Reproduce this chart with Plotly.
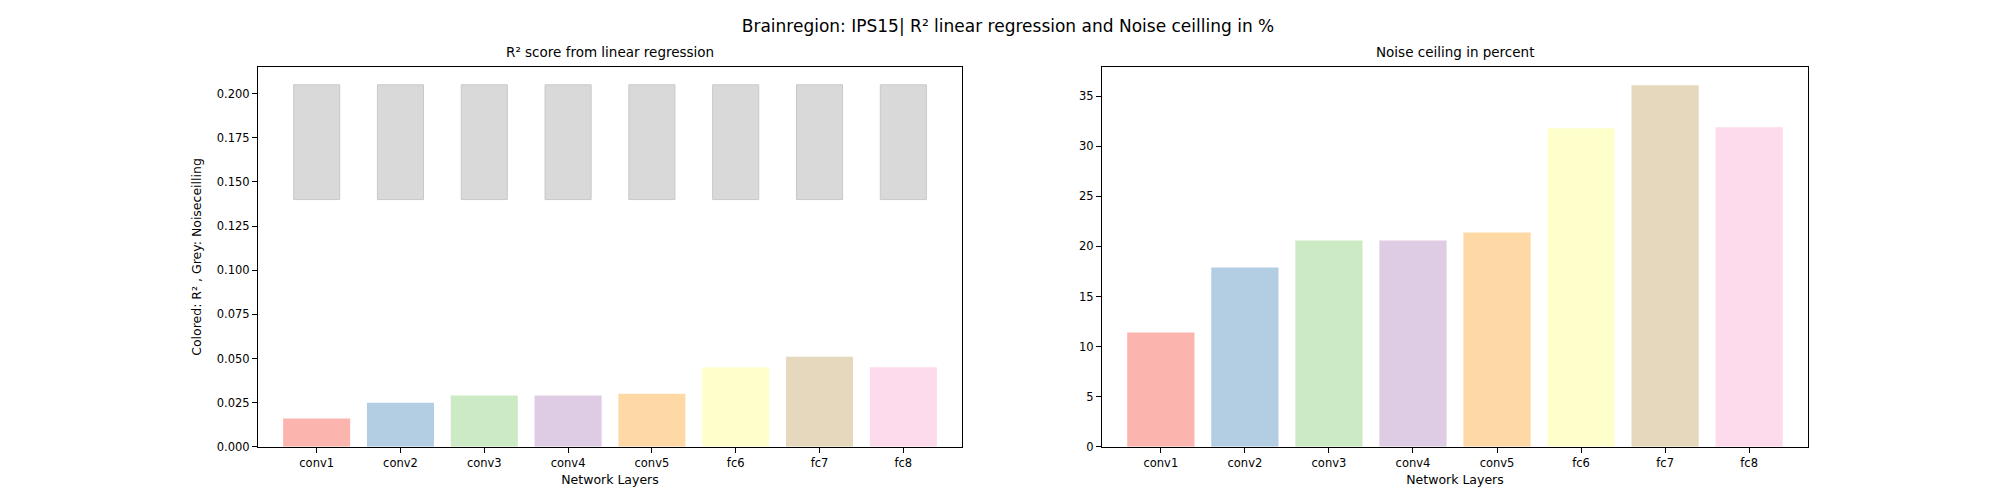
import plotly.graph_objects as go

layers = ['conv1', 'conv2', 'conv3', 'conv4', 'conv5', 'fc6', 'fc7', 'fc8']
r2_scores = [0.016, 0.025, 0.029, 0.029, 0.030, 0.045, 0.051, 0.045]
nc_low = [0.140] * 8
nc_high = [0.205] * 8
noise_ceiling_pct = [11.4, 17.9, 20.6, 20.6, 21.4, 31.8, 36.1, 31.9]

cores = ['#fbb4ae', '#b3cde3', '#ccebc5', '#decbe4', '#fed9a6', '#ffffcc', '#e5d8bd', '#fddaec']
fonte = dict(family='DejaVu Sans', size=11.5, color='black')

fig = go.Figure()

# Barras cinza (noise ceiling) flutuantes
fig.add_trace(go.Bar(
    x=layers, y=[h - l for h, l in zip(nc_high, nc_low)], base=nc_low,
    width=0.55, marker=dict(color='#d9d9d9', line=dict(color='#c8c8c8', width=1)),
    xaxis='x', yaxis='y', showlegend=False))

# R² por camada
fig.add_trace(go.Bar(
    x=layers, y=r2_scores, width=0.8, marker=dict(color=cores, line_width=0),
    xaxis='x', yaxis='y', showlegend=False))

# Noise ceiling em %
fig.add_trace(go.Bar(
    x=layers, y=noise_ceiling_pct, width=0.8, marker=dict(color=cores, line_width=0),
    xaxis='x2', yaxis='y2', showlegend=False))

eixo = dict(showline=True, mirror=True, linecolor='black', linewidth=1, ticks='outside',
            ticklen=5, tickcolor='black', showgrid=False, zeroline=False, tickfont=fonte)

fig.update_layout(
    width=2000, height=500, plot_bgcolor='white', paper_bgcolor='white',
    font=fonte, barmode='overlay', margin=dict(l=0, r=0, t=0, b=0),
    title=dict(text='Brainregion: IPS15| R² linear regression and Noise ceilling in %',
               x=0.5, xanchor='center', y=0.964, yanchor='middle',
               font=dict(family='DejaVu Sans', size=17, color='black')),
    xaxis=dict(eixo, domain=[0.125, 0.477], range=[-0.7, 7.7],
               title=dict(text='Network Layers', font=dict(size=12.5), standoff=6)),
    yaxis=dict(eixo, domain=[0.11, 0.88], range=[0, 0.215], tickformat='.3f', dtick=0.025,
               title=dict(text='Colored: R² , Grey: Noiseceilling', font=dict(size=12.5), standoff=12)),
    xaxis2=dict(eixo, domain=[0.547, 0.900], range=[-0.7, 7.7], anchor='y2',
                title=dict(text='Network Layers', font=dict(size=12.5), standoff=6)),
    yaxis2=dict(eixo, domain=[0.11, 0.88], range=[0, 37.9], dtick=5, anchor='x2'),
    annotations=[
        dict(text='R² score from linear regression', x=0.301, y=0.89, xref='paper', yref='paper',
             xanchor='center', yanchor='bottom', showarrow=False, font=dict(size=13.5)),
        dict(text='Noise ceiling in percent', x=0.7235, y=0.89, xref='paper', yref='paper',
             xanchor='center', yanchor='bottom', showarrow=False, font=dict(size=13.5)),
    ],
)

fig.write_html('out.html')
